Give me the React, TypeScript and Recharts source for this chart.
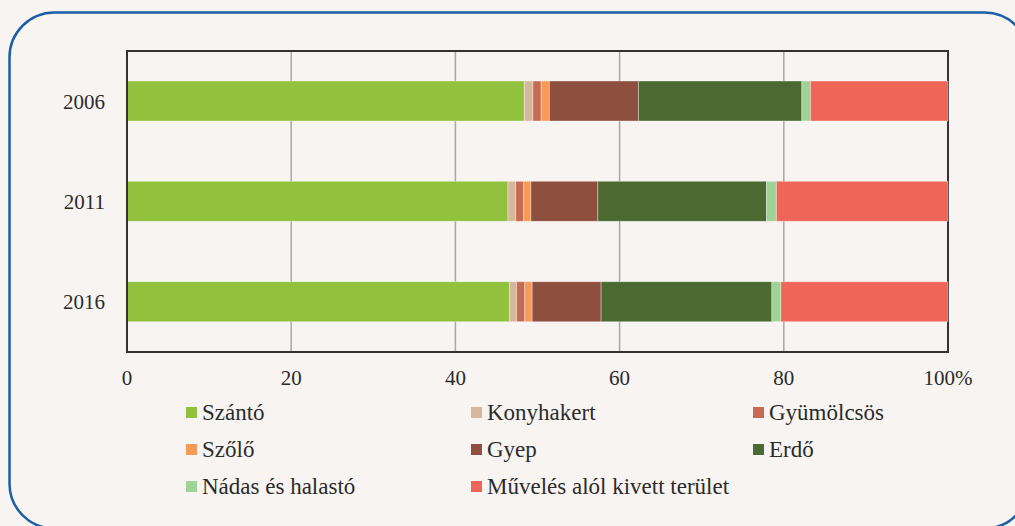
import {
  Bar,
  BarChart,
  CartesianGrid,
  ReferenceArea,
  XAxis,
  YAxis,
} from "recharts";

const YEARS = ["2006", "2011", "2016"];

const SERIES = [
  "Szántó",
  "Konyhakert",
  "Gyümölcsös",
  "Szőlő",
  "Gyep",
  "Erdő",
  "Nádas és halastó",
  "Művelés alól kivett terület",
];

const COLORS = [
  "#92C13E",
  "#D6B79A",
  "#C66B52",
  "#F79A55",
  "#8E4F3F",
  "#4A6A32",
  "#9FD396",
  "#EF6558",
];

// share of each land use per year, %
const SZANTO = [48.4, 46.4, 46.6];
const KONYHAKERT = [1.05, 0.95, 0.85];
const GYUMOLCSOS = [1.0, 0.95, 1.0];
const SZOLO = [1.0, 0.9, 0.9];
const GYEP = [10.85, 8.15, 8.4];
const ERDO = [19.9, 20.55, 20.8];
const NADAS = [1.05, 1.2, 1.1];
const KIVETT = [16.75, 20.9, 20.35];

const X_TICKS = [0, 20, 40, 60, 80, 100];

const VALUES = [SZANTO, KONYHAKERT, GYUMOLCSOS, SZOLO, GYEP, ERDO, NADAS, KIVETT];

const data = YEARS.map((year, i) => {
  const row: Record<string, string | number> = { year };
  SERIES.forEach((name, s) => {
    row[name] = VALUES[s][i];
  });
  return row;
});

const FONT = "Liberation Serif";
const TEXT = "#2b2b2b";

// legend grid: 3 columns, 3 rows
const LEGEND_COLS = [186, 471, 753];
const LEGEND_ROWS = [413, 450, 487];

export default function App() {
  return (
    <div
      style={{
        position: "fixed",
        left: 0,
        top: 0,
        width: 1015,
        height: 526,
        background: "#F7F4F1",
        overflow: "hidden",
      }}
    >
      <div style={{ position: "absolute", left: 0, top: 0 }}>
        <BarChart
          width={1015}
          height={526}
          data={data}
          layout="vertical"
          barSize={40}
          margin={{ top: 51, right: 67, left: 27, bottom: 134 }}
        >
          <CartesianGrid
            horizontal={false}
            stroke="#A8A8A8"
            strokeWidth={1.5}
          />
          <XAxis
            type="number"
            domain={[0, 100]}
            ticks={X_TICKS}
            height={40}
            tickLine={false}
            tickMargin={12}
            axisLine={{ stroke: "#333", strokeWidth: 2 }}
            tick={{ fill: TEXT, fontSize: 21, fontFamily: FONT }}
            tickFormatter={(v: number) => (v === 100 ? "100%" : String(v))}
          />
          <YAxis
            type="category"
            dataKey="year"
            width={100}
            tickLine={false}
            tickMargin={16}
            axisLine={{ stroke: "#333", strokeWidth: 2 }}
            tick={{ fill: TEXT, fontSize: 21, fontFamily: FONT }}
          />
          {SERIES.map((name, i) => (
            <Bar
              key={name}
              dataKey={name}
              stackId="a"
              fill={COLORS[i]}
              stroke="rgba(255,255,255,0.35)"
              strokeWidth={1}
              isAnimationActive={false}
            />
          ))}
          <ReferenceArea
            x1={0}
            x2={100}
            fill="none"
            stroke="#333"
            strokeWidth={2}
            ifOverflow="visible"
          />
        </BarChart>
      </div>
      <svg
        width={1015}
        height={526}
        style={{ position: "absolute", left: 0, top: 0, pointerEvents: "none" }}
      >
        <rect
          x={9.5}
          y={12.5}
          width={1020}
          height={516}
          rx={45}
          ry={45}
          fill="none"
          stroke="#1A5FA6"
          strokeWidth={2.5}
        />
        {SERIES.map((name, i) => {
          const x = LEGEND_COLS[i % 3];
          const y = LEGEND_ROWS[Math.floor(i / 3)];
          return (
            <g key={name}>
              <rect x={x} y={y - 6} width={11} height={11} fill={COLORS[i]} />
              <text
                x={x + 16}
                y={y + 7}
                fontFamily={FONT}
                fontSize={23}
                fill={TEXT}
              >
                {name}
              </text>
            </g>
          );
        })}
      </svg>
    </div>
  );
}
